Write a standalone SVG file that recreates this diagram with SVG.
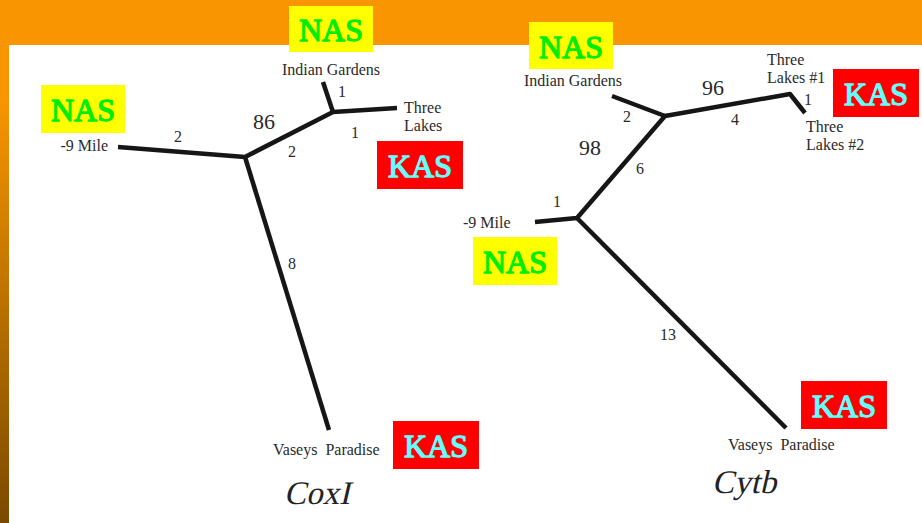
<svg xmlns="http://www.w3.org/2000/svg" width="922" height="523" viewBox="0 0 922 523" font-family="Liberation Serif">
<defs>
<linearGradient id="bg" x1="0" y1="0" x2="0" y2="1">
<stop offset="0" stop-color="#F89500"/>
<stop offset="0.19" stop-color="#F89500"/>
<stop offset="1" stop-color="#7A4A00"/>
</linearGradient>
</defs>
<rect x="0" y="0" width="922" height="523" fill="url(#bg)"/>
<rect x="0" y="0" width="922" height="45" fill="#F89500"/>
<rect x="9" y="45" width="913" height="478" fill="#FFFFFF"/>

<g id="connectors" stroke="#161616" stroke-width="4.5" fill="none" stroke-linejoin="round">
<polyline points="118,147 245,157 333,112 397,108"/>
<line x1="333" y1="112" x2="323" y2="82"/>
<line x1="245" y1="157" x2="329" y2="430"/>
<polyline points="535,222 577,218 665,116 790,94 805,113"/>
<line x1="665" y1="116" x2="612" y2="96"/>
<line x1="577" y1="218" x2="786" y2="428"/>
</g>

<g id="coxi-branch-labels" fill="#2a2a2a" text-anchor="middle">
<text style="font-family:'Liberation Serif',serif;font-size:16px" x="178" y="142">2</text>
<text style="font-family:'Liberation Serif',serif;font-size:22px" x="264" y="129">86</text>
<text style="font-family:'Liberation Serif',serif;font-size:16px" x="292" y="157">2</text>
<text style="font-family:'Liberation Serif',serif;font-size:16px" x="342" y="97">1</text>
<text style="font-family:'Liberation Serif',serif;font-size:16px" x="355" y="138">1</text>
<text style="font-family:'Liberation Serif',serif;font-size:16px" x="292" y="269">8</text>
</g>
<g id="coxi-nine-mile" fill="#2a2a2a"><text style="font-family:'Liberation Serif',serif;font-size:16px" x="108" y="151" text-anchor="end">-9 Mile</text></g>
<g id="coxi-indian-gardens" fill="#2a2a2a"><text style="font-family:'Liberation Serif',serif;font-size:16px" x="331" y="75" text-anchor="middle">Indian Gardens</text></g>
<g id="coxi-three-lakes" fill="#2a2a2a"><text style="font-family:'Liberation Serif',serif;font-size:16px" x="404" y="113">Three</text><text style="font-family:'Liberation Serif',serif;font-size:16px" x="404" y="131">Lakes</text></g>
<g id="coxi-vaseys" fill="#2a2a2a"><text style="font-family:'Liberation Serif',serif;font-size:16px" x="273" y="455" word-spacing="4">Vaseys Paradise</text></g>
<g id="coxi-title" fill="#222"><text style="font-family:'Liberation Serif',serif;font-size:33px" transform="translate(284,504) skewX(-13)" x="0" y="0">CoxI</text></g>

<g id="cytb-branch-labels" fill="#2a2a2a" text-anchor="middle">
<text style="font-family:'Liberation Serif',serif;font-size:16px" x="627" y="122">2</text>
<text style="font-family:'Liberation Serif',serif;font-size:22px" x="713" y="95">96</text>
<text style="font-family:'Liberation Serif',serif;font-size:16px" x="735" y="125">4</text>
<text style="font-family:'Liberation Serif',serif;font-size:16px" x="808" y="105">1</text>
<text style="font-family:'Liberation Serif',serif;font-size:22px" x="590" y="155">98</text>
<text style="font-family:'Liberation Serif',serif;font-size:16px" x="640" y="174">6</text>
<text style="font-family:'Liberation Serif',serif;font-size:16px" x="557" y="207">1</text>
<text style="font-family:'Liberation Serif',serif;font-size:16px" x="668" y="340">13</text>
</g>
<g id="cytb-nine-mile" fill="#2a2a2a"><text style="font-family:'Liberation Serif',serif;font-size:16px" x="463" y="228">-9 Mile</text></g>
<g id="cytb-indian-gardens" fill="#2a2a2a"><text style="font-family:'Liberation Serif',serif;font-size:16px" x="573" y="86" text-anchor="middle">Indian Gardens</text></g>
<g id="cytb-three-lakes-1" fill="#2a2a2a"><text style="font-family:'Liberation Serif',serif;font-size:16px" x="767" y="65">Three</text><text style="font-family:'Liberation Serif',serif;font-size:16px" x="767" y="83">Lakes #1</text></g>
<g id="cytb-three-lakes-2" fill="#2a2a2a"><text style="font-family:'Liberation Serif',serif;font-size:16px" x="806" y="132">Three</text><text style="font-family:'Liberation Serif',serif;font-size:16px" x="806" y="150">Lakes #2</text></g>
<g id="cytb-vaseys" fill="#2a2a2a"><text style="font-family:'Liberation Serif',serif;font-size:16px" x="728" y="450" word-spacing="4">Vaseys Paradise</text></g>
<g id="cytb-title" fill="#222"><text style="font-family:'Liberation Serif',serif;font-size:33px" transform="translate(712,493) skewX(-13)" x="0" y="0">Cytb</text></g>

<g text-anchor="middle" stroke-width="1.3" stroke-linejoin="round">
<g id="nas-1"><rect fill="#FFFF00" x="289" y="6" width="84" height="46"/><text style="font-family:'Liberation Serif',serif;font-size:32px" fill="#00EE00" stroke="#00EE00" x="331" y="41">NAS</text></g>
<g id="nas-2"><rect fill="#FFFF00" x="41" y="85" width="84" height="48"/><text style="font-family:'Liberation Serif',serif;font-size:32px" fill="#00EE00" stroke="#00EE00" x="83" y="121">NAS</text></g>
<g id="kas-1"><rect fill="#FF0000" x="377" y="141" width="86" height="48"/><text style="font-family:'Liberation Serif',serif;font-size:32px" fill="#66FFFF" stroke="#66FFFF" x="420" y="177">KAS</text></g>
<g id="kas-2"><rect fill="#FF0000" x="393" y="421" width="86" height="48"/><text style="font-family:'Liberation Serif',serif;font-size:32px" fill="#66FFFF" stroke="#66FFFF" x="436" y="457">KAS</text></g>
<g id="nas-3"><rect fill="#FFFF00" x="529" y="22" width="84" height="47"/><text style="font-family:'Liberation Serif',serif;font-size:32px" fill="#00EE00" stroke="#00EE00" x="571" y="58">NAS</text></g>
<g id="kas-3"><rect fill="#FF0000" x="833" y="69" width="86" height="48"/><text style="font-family:'Liberation Serif',serif;font-size:32px" fill="#66FFFF" stroke="#66FFFF" x="876" y="105">KAS</text></g>
<g id="nas-4"><rect fill="#FFFF00" x="473" y="237" width="84" height="48"/><text style="font-family:'Liberation Serif',serif;font-size:32px" fill="#00EE00" stroke="#00EE00" x="515" y="273">NAS</text></g>
<g id="kas-4"><rect fill="#FF0000" x="801" y="381" width="86" height="48"/><text style="font-family:'Liberation Serif',serif;font-size:32px" fill="#66FFFF" stroke="#66FFFF" x="844" y="417">KAS</text></g>
</g>
</svg>
